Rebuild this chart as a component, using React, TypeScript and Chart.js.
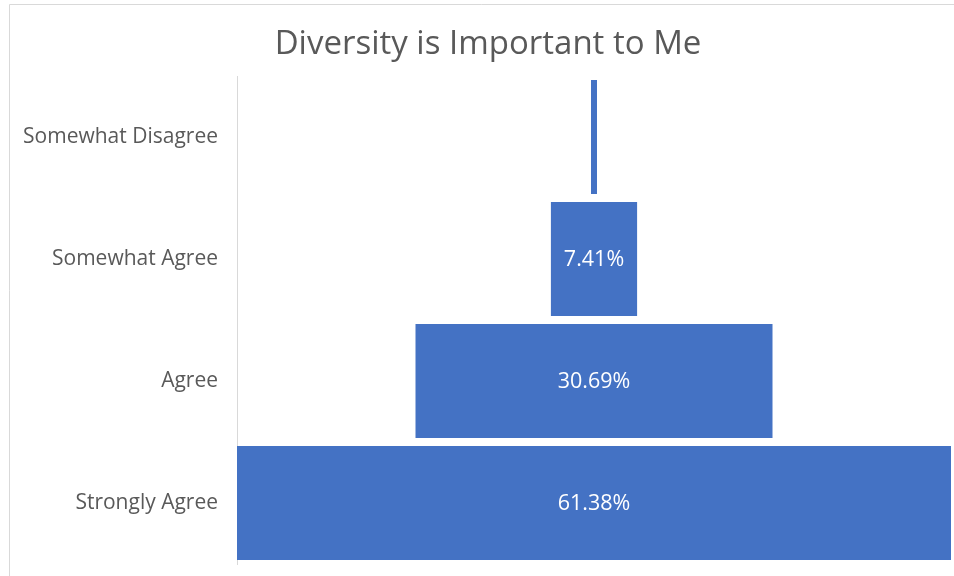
import React, { useEffect, useRef } from "react";
import { Chart, registerables } from "chart.js";

Chart.register(...registerables);

const categories = ["Somewhat Disagree", "Somewhat Agree", "Agree", "Strongly Agree"];
const values = [0.52, 7.41, 30.69, 61.38];
const valueLabels = ["0.52%", "7.41%", "30.69%", "61.38%"];
const chartTitle = "Diversity is Important to Me";

const FONT = "'Open Sans', 'Liberation Sans', sans-serif";
const TEXT = "#595959";
const BAR = "#4472C4";
const FRAME = "#d9d9d9";

const framePlugin = {
  id: "frameAndTitle",
  beforeDraw(chart: any) {
    const ctx = chart.ctx;
    ctx.save();
    ctx.fillStyle = "#ffffff";
    ctx.fillRect(0, 0, chart.width, chart.height);
    ctx.strokeStyle = FRAME;
    ctx.lineWidth = 1;
    ctx.beginPath();
    ctx.moveTo(9.5, chart.height);
    ctx.lineTo(9.5, 4.5);
    ctx.lineTo(chart.width, 4.5);
    ctx.stroke();
    ctx.fillStyle = TEXT;
    ctx.font = `33px ${FONT}`;
    ctx.textAlign = "center";
    ctx.textBaseline = "alphabetic";
    ctx.fillText(chartTitle, 488, 54);
    ctx.restore();
  },
};

const labelPlugin = {
  id: "funnelLabels",
  afterDatasetsDraw(chart: any) {
    const ctx = chart.ctx;
    const meta = chart.getDatasetMeta(0);
    ctx.save();
    ctx.font = `21.5px ${FONT}`;
    ctx.fillStyle = "#ffffff";
    ctx.textAlign = "center";
    ctx.textBaseline = "middle";
    meta.data.forEach((el: any, i: number) => {
      const left = Math.min(el.x, el.base);
      const right = Math.max(el.x, el.base);
      const txt = valueLabels[i];
      const w = ctx.measureText(txt).width;
      if (w + 8 < right - left) {
        ctx.fillText(txt, (left + right) / 2, el.y + 1);
      }
    });
    ctx.restore();
  },
};

export default function App() {
  const ref = useRef<HTMLCanvasElement | null>(null);
  useEffect(() => {
    if (!ref.current) return;
    const maxV = Math.max(...values);
    const chart = new Chart(ref.current, {
      type: "bar",
      data: {
        labels: categories,
        datasets: [
          {
            data: values.map((v) => [-v / 2, v / 2]) as any,
            backgroundColor: BAR,
            borderWidth: 0,
            barPercentage: 0.934,
            categoryPercentage: 1,
          },
        ],
      },
      options: {
        indexAxis: "y",
        responsive: false,
        animation: false,
        devicePixelRatio: 1,
        layout: { padding: { top: 76, right: 3, bottom: 12, left: 0 } },
        plugins: {
          legend: { display: false },
          tooltip: { enabled: false },
          title: { display: false },
        },
        scales: {
          x: { display: false, min: -maxV / 2, max: maxV / 2 },
          y: {
            position: "left",
            grid: { display: false, drawTicks: false },
            border: { display: true, color: FRAME, width: 1 },
            ticks: { color: TEXT, font: { family: FONT, size: 21 }, padding: 19 },
            afterFit(scale: any) {
              scale.width = 237;
              scale.paddingTop = 0;
              scale.paddingBottom = 0;
            },
          },
        },
      },
      plugins: [framePlugin, labelPlugin],
    });
    return () => chart.destroy();
  }, []);
  return (
    <div style={{ position: "fixed", left: 0, top: 0, width: 954, height: 576, background: "#fff" }}>
      <canvas ref={ref} width={954} height={576} style={{ display: "block" }} />
    </div>
  );
}
